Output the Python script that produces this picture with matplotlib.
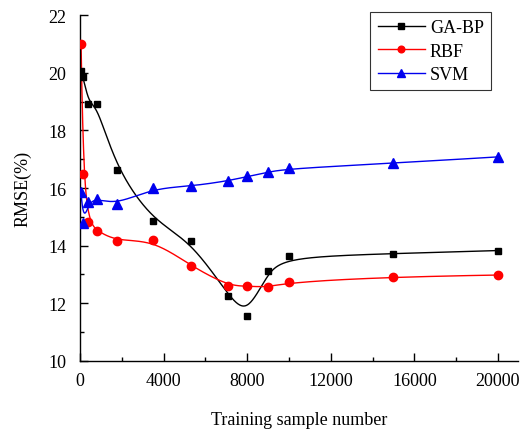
import numpy as np
import matplotlib
matplotlib.use("Agg")
import matplotlib.pyplot as plt
from matplotlib.lines import Line2D
from matplotlib.ticker import MultipleLocator

plt.rcParams['font.family'] = ['Liberation Serif', 'DejaVu Serif']

# training sample numbers
samples = [50, 150, 400, 800, 1750, 3500, 5300, 7100, 8000, 9000, 10000, 15000, 20000]

# RMSE (%) per model
ga_bp = [20.05, 19.85, 18.9, 18.9, 16.64, 14.85, 14.17, 12.27, 11.57, 13.13, 13.65, 13.72, 13.83]
rbf = [21.0, 16.47, 14.83, 14.52, 14.15, 14.2, 13.3, 12.6, 12.6, 12.55, 12.74, 12.92, 12.98]
svm = [15.85, 14.8, 15.5, 15.63, 15.43, 15.99, 16.06, 16.25, 16.40, 16.55, 16.68, 16.86, 17.08]


def bspline(xs, ys, k=3, num=600):
    # clamped uniform B-spline using the data points as control points
    pts = np.column_stack([xs, ys]).astype(float)
    n = len(pts)
    inner = np.arange(1, n - k)
    knots = np.concatenate([np.zeros(k + 1), inner, np.full(k + 1, n - k)]).astype(float)
    t = np.linspace(0, n - k, num)
    t[-1] -= 1e-9
    # Cox-de Boor
    B = np.zeros((num, len(knots) - 1))
    for i in range(len(knots) - 1):
        B[:, i] = (t >= knots[i]) & (t < knots[i + 1])
    for d in range(1, k + 1):
        Bn = np.zeros((num, len(knots) - 1 - d))
        for i in range(len(knots) - 1 - d):
            a = knots[i + d] - knots[i]
            b = knots[i + d + 1] - knots[i + 1]
            left = (t - knots[i]) / a * B[:, i] if a > 0 else 0
            right = (knots[i + d + 1] - t) / b * B[:, i + 1] if b > 0 else 0
            Bn[:, i] = left + right
        B = Bn
    curve = B @ pts
    return curve[:, 0], curve[:, 1]


fig = plt.figure(figsize=(5.23, 4.35), dpi=100)
ax = fig.add_axes([0.153, 0.168, 0.837, 0.795])

series = [
    ("GA-BP", ga_bp, "black", "s", 5),
    ("RBF", rbf, "#ff0000", "o", 6),
    ("SVM", svm, "#0000ee", "^", 7),
]
handles = []
for name, vals, col, mk, ms in series:
    cx, cy = bspline(samples, vals)
    ax.plot(cx, cy, color=col, lw=1.0, zorder=2)
    ax.plot(samples, vals, ls="none", marker=mk, ms=ms, color=col, zorder=3)
    handles.append(Line2D([], [], color=col, lw=1.0, marker=mk, ms=ms * 0.8, label=name))

ax.set_xlim(0, 20950)
ax.set_ylim(10, 22)
ax.xaxis.set_major_locator(MultipleLocator(4000))
ax.xaxis.set_minor_locator(MultipleLocator(2000))
ax.yaxis.set_major_locator(MultipleLocator(2))
ax.yaxis.set_minor_locator(MultipleLocator(1))
ax.tick_params(which="both", direction="in", labelsize=13, width=1)
ax.tick_params(which="major", length=6)
ax.tick_params(axis="x", which="major", pad=8)
ax.tick_params(axis="y", which="major", pad=10)
ax.tick_params(which="minor", length=3)
for s in ["top", "right"]:
    ax.spines[s].set_visible(False)
for s in ["left", "bottom"]:
    ax.spines[s].set_linewidth(1.0)

ax.set_xlabel("Training sample number", fontsize=13, labelpad=16)
ax.set_ylabel("RMSE(%)", fontsize=13, labelpad=12)

leg = ax.legend(handles=handles, loc="upper right", bbox_to_anchor=(0.96, 1.035),
                fontsize=13, frameon=True, fancybox=False, numpoints=1,
                handlelength=2.6, borderpad=0.4, labelspacing=0.35, handletextpad=0.3)
leg.get_frame().set_edgecolor("black")
leg.get_frame().set_linewidth(0.8)

fig.savefig("out.png", dpi=100)
